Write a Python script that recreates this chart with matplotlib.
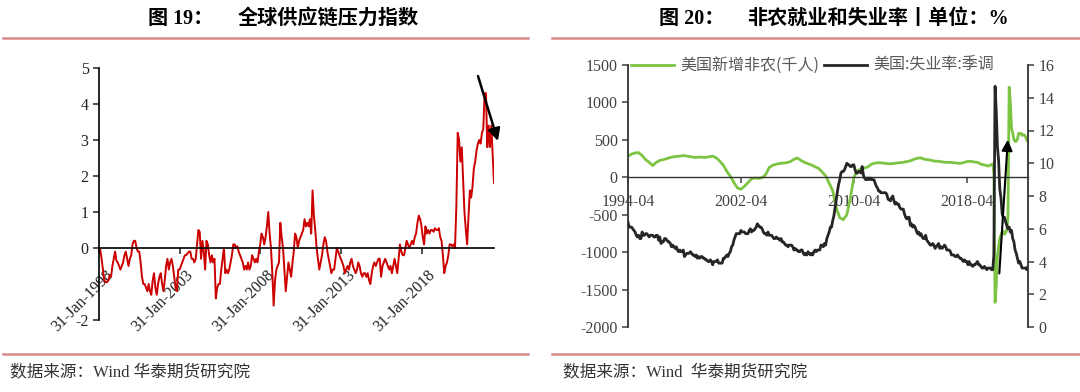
import numpy as np
import pandas as pd
import matplotlib as mpl
mpl.use('Agg') #silent mode
from matplotlib import pyplot as plt
import matplotlib.dates as mdates
import matplotlib.transforms as mtrans
from matplotlib.lines import Line2D

plt.rcParams['font.family'] = ['Liberation Serif', 'Noto Sans CJK SC']
plt.rcParams['axes.unicode_minus'] = False

#------------------- Data ----------------------
# global supply chain pressure index, monthly from Jan-1998
gscpi = [
    -0.1, -0.05, -0.3, -0.6, -0.9, -0.95, -0.95, -0.9, -0.75, -0.8, -0.5, -0.3,   # 1998
    -0.1, -0.35, -0.4, -0.5, -0.6, -0.5, -0.4, -0.2, -0.1, -0.3, -0.5, -0.3,      # 1999
    -0.2, 0.1, 0.2, 0.2, 0.0, -0.1, -0.1, -0.4, -0.8, -1.0, -1.0, -1.1,           # 2000
    -1.2, -1.0, -1.2, -1.3, -0.9, -0.7, -1.1, -1.3, -1.0, -0.8, -0.7, -1.0,       # 2001
    -1.2, -0.9, -0.5, -0.3, -0.6, -0.4, -0.3, -0.5, -0.8, -1.1, -1.2, -0.6,       # 2002
    -0.6, -0.5, -0.4, -0.3, -0.2, -0.2, -0.15, -0.1, -0.1, -0.3, -0.3, -0.4,      # 2003
    -0.3, 0.1, 0.5, 0.45, -0.3, 0.2, -0.1, -0.6, 0.2, 0.1, -0.2, -0.4,            # 2004
    -0.2, -0.4, -0.3, -1.4, -1.1, -1.0, -1.0, -0.6, -0.3, 0.0, -0.7, -0.6,        # 2005
    -0.7, -0.6, -0.4, -0.2, 0.1, 0.1, 0.0, 0.05, -0.1, -0.2, -0.3, -0.4,          # 2006
    -0.6, -0.5, -0.6, -0.4, -0.6, -0.5, -0.2, -0.3, -0.4, -0.3, -0.4, -0.1,       # 2007
    0.1, 0.4, 0.3, 0.1, 0.3, 0.6, 1.0, 0.4, 0.0, -0.7, -1.6, -0.9,                # 2008
    -0.6, -0.5, -0.4, 0.7, 0.3, 0.0, -0.6, -1.2, -0.8, -0.4, -0.6, -0.8,          # 2009
    -0.4, -0.1, 0.4, 0.3, 0.0, 0.2, 0.3, 0.4, 0.5, 0.8, 0.6, 0.7,                 # 2010
    0.6, 0.8, 0.4, 1.6, 0.9, 0.5, 0.0, -0.3, -0.6, -0.4, -0.2, 0.1,               # 2011
    0.3, 0.2, -0.1, -0.3, -0.5, -0.7, -0.6, -0.6, -0.3, 0.0, -0.1, -0.2,          # 2012
    -0.3, -0.4, -0.5, -0.7, -0.6, -0.5, -0.6, -0.4, -0.3, -0.5, -0.6, -0.7,       # 2013
    -0.6, -0.4, -0.5, -0.7, -0.8, -0.7, -0.7, -0.8, -0.7, -0.9, -1.0, -0.7,       # 2014
    -0.5, -0.4, -0.5, -0.4, -0.3, -0.3, -0.8, -0.5, -0.4, -0.3, -0.4, -0.5,       # 2015
    -0.6, -0.5, -0.7, -0.5, -0.3, -0.5, -0.7, -0.3, 0.1, -0.1, -0.2, -0.2,        # 2016
    0.0, 0.2, 0.1, 0.0, 0.1, 0.2, 0.1, 0.3, 0.4, 0.7, 0.9, 0.8,                   # 2017
    0.6, 0.3, 0.1, 0.6, 0.4, 0.5, 0.4, 0.5, 0.5, 0.45, 0.55, 0.5,                 # 2018
    0.5, 0.55, 0.3, 0.2, -0.2, -0.7, -0.5, -0.4, -0.2, 0.1, 0.1, 0.05,            # 2019
    0.1, 0.0, 1.2, 3.2, 3.0, 2.4, 2.8, 1.9, 1.0, 0.5, 0.1, 0.9,                   # 2020
    1.6, 1.4, 1.7, 2.2, 2.4, 2.7, 2.9, 3.0, 2.9, 3.2, 3.3, 4.3,                   # 2021
    4.3, 2.8, 3.4, 2.8, 3.4, 2.6, 1.8,                                            # 2022
]
gscpi_ticks = ['1998-01-31', '2003-01-31', '2008-01-31', '2013-01-31', '2018-01-31']
gscpi_yticks = [-2, 0, 1, 2, 3, 4, 5]

# US unemployment rate (sa), monthly from 1994-04
unemp = [
    6.4, 6.1, 6.1, 6.1, 6.0, 5.9, 5.8, 5.6, 5.5,                  # 1994
    5.6, 5.4, 5.4, 5.8, 5.6, 5.6, 5.7, 5.7, 5.6, 5.5, 5.6, 5.6,   # 1995
    5.6, 5.5, 5.5, 5.6, 5.6, 5.3, 5.5, 5.1, 5.2, 5.2, 5.4, 5.4,   # 1996
    5.3, 5.2, 5.2, 5.1, 4.9, 5.0, 4.9, 4.8, 4.9, 4.7, 4.6, 4.7,   # 1997
    4.6, 4.6, 4.7, 4.3, 4.4, 4.5, 4.5, 4.5, 4.6, 4.5, 4.4, 4.4,   # 1998
    4.3, 4.4, 4.2, 4.3, 4.2, 4.3, 4.3, 4.2, 4.2, 4.1, 4.1, 4.0,   # 1999
    4.0, 4.1, 4.0, 3.8, 4.0, 4.0, 4.0, 4.1, 3.9, 3.9, 3.9, 3.9,   # 2000
    4.2, 4.2, 4.3, 4.4, 4.3, 4.5, 4.6, 4.9, 5.0, 5.3, 5.5, 5.7,   # 2001
    5.7, 5.7, 5.7, 5.9, 5.8, 5.8, 5.8, 5.7, 5.7, 5.7, 5.9, 6.0,   # 2002
    5.8, 5.9, 5.9, 6.0, 6.1, 6.3, 6.2, 6.1, 6.1, 6.0, 5.8, 5.7,   # 2003
    5.7, 5.6, 5.8, 5.6, 5.6, 5.6, 5.5, 5.4, 5.4, 5.5, 5.4, 5.4,   # 2004
    5.3, 5.4, 5.2, 5.2, 5.1, 5.0, 5.0, 4.9, 5.0, 5.0, 5.0, 4.9,   # 2005
    4.7, 4.8, 4.7, 4.7, 4.6, 4.6, 4.7, 4.7, 4.5, 4.4, 4.5, 4.4,   # 2006
    4.6, 4.5, 4.4, 4.5, 4.4, 4.6, 4.7, 4.6, 4.7, 4.7, 4.7, 5.0,   # 2007
    5.0, 4.9, 5.1, 5.0, 5.4, 5.6, 5.8, 6.1, 6.1, 6.5, 6.8, 7.3,   # 2008
    7.8, 8.3, 8.7, 9.0, 9.4, 9.5, 9.5, 9.6, 9.8, 10.0, 9.9, 9.9,  # 2009
    9.8, 9.8, 9.9, 9.9, 9.6, 9.4, 9.4, 9.5, 9.5, 9.4, 9.8, 9.3,   # 2010
    9.1, 9.0, 9.0, 9.1, 9.0, 9.1, 9.0, 9.0, 9.0, 8.8, 8.6, 8.5,   # 2011
    8.3, 8.3, 8.2, 8.2, 8.2, 8.2, 8.2, 8.1, 7.8, 7.8, 7.7, 7.9,   # 2012
    8.0, 7.7, 7.5, 7.6, 7.5, 7.5, 7.3, 7.2, 7.2, 7.2, 6.9, 6.7,   # 2013
    6.6, 6.7, 6.7, 6.2, 6.3, 6.1, 6.2, 6.1, 5.9, 5.7, 5.8, 5.6,   # 2014
    5.7, 5.5, 5.4, 5.4, 5.6, 5.3, 5.2, 5.1, 5.0, 5.0, 5.1, 5.0,   # 2015
    4.8, 4.9, 5.0, 5.1, 4.8, 4.9, 4.8, 4.9, 5.0, 4.9, 4.7, 4.7,   # 2016
    4.7, 4.6, 4.4, 4.4, 4.4, 4.3, 4.3, 4.4, 4.3, 4.2, 4.2, 4.1,   # 2017
    4.0, 4.1, 4.0, 4.0, 3.8, 4.0, 3.8, 3.8, 3.7, 3.8, 3.8, 3.9,   # 2018
    4.0, 3.8, 3.8, 3.7, 3.6, 3.6, 3.7, 3.6, 3.5, 3.6, 3.6, 3.6,   # 2019
    3.5, 3.5, 4.4, 14.7, 13.2, 11.0, 10.2, 8.4, 7.9, 6.9, 6.7, 6.7,  # 2020
    6.4, 6.2, 6.0, 6.1, 5.8, 5.9, 5.4, 5.2, 4.7, 4.5, 4.2, 3.9,   # 2021
    4.0, 3.8, 3.6, 3.6, 3.6, 3.6, 3.5, 3.7,                       # 2022
]

# nonfarm payrolls (thousands, 12m avg): quarterly 1994-04 .. 2019-10
nfp_q = [
    280, 310, 325,
    330, 290, 236, 200,   # 1995
    156, 200, 225, 235,   # 1996
    250, 265, 275, 280,   # 1997
    285, 290, 280, 272,   # 1998
    265, 270, 268, 265,   # 1999
    275, 282, 260, 215,   # 2000
    160, 80, 13, -70,     # 2001
    -143, -160, -120, -70,  # 2002
    -20, -10, -15, -5,    # 2003
    36, 130, 160, 175,    # 2004
    185, 190, 195, 210,   # 2005
    240, 258, 225, 200,   # 2006
    180, 165, 140, 120,   # 2007
    70, 20, -80, -180,    # 2008
    -410, -540, -566, -500,  # 2009
    -276, 0, 90, 110,     # 2010
    125, 140, 175, 190,   # 2011
    195, 192, 185, 180,   # 2012
    183, 190, 195, 200,   # 2013
    210, 220, 240, 255,   # 2014
    258, 240, 235, 225,   # 2015
    215, 214, 205, 200,   # 2016
    200, 195, 192, 185,   # 2017
    195, 210, 214, 205,   # 2018
    200, 175, 165, 150,   # 2019
]
# monthly 2020-01 .. 2022-08
nfp_m = [
    170, 180, 50, -1671, -1450, -1061, -932, -815, -770, -729, -722, -762,
    -737, -699, -526, 1203, 1004, 647, 594, 505, 480, 480, 512, 587,
    585, 586, 560, 569, 564, 542, 496, 479,
]
nfp_ticks = ['1994-04-01', '2002-04-01', '2010-04-01', '2018-04-01']

gscpi_dates = pd.date_range('1998-01-31', periods=len(gscpi), freq='ME')
unemp_dates = pd.date_range('1994-04-01', periods=len(unemp), freq='MS')
nfp_dates = list(pd.date_range('1994-04-01', periods=len(nfp_q), freq='3MS')) + \
    list(pd.date_range('2020-01-01', periods=len(nfp_m), freq='MS'))
nfp = nfp_q + nfp_m

def dnum(s):
    return mdates.date2num(pd.Timestamp(s))

#--------------------- Figure ------------------------
W, H = 1080, 392
fig = plt.figure(figsize=(W / 100, H / 100), dpi=100)

def fx(px):
    return px / W
def fy(py):
    return 1 - py / H

# header / footer rules
rule_c = '#d98a8a'
for x0, x1 in [(3, 528), (552, 1080)]:
    for yy in (38, 354):
        fig.add_artist(Line2D([fx(x0), fx(x1)], [fy(yy), fy(yy)], color=rule_c, lw=1.8))

title_font = dict(fontsize=14.5, fontweight='bold', color='black', va='center', ha='left')
fig.text(fx(148), fy(19), '图 19：', **title_font)
fig.text(fx(238), fy(19), '全球供应链压力指数', **title_font)
fig.text(fx(659), fy(19), '图 20：', **title_font)
fig.text(fx(747), fy(19), '非农就业和失业率丨单位：%', **title_font)

foot_font = dict(fontsize=12, color='#333333', va='center', ha='left')
fig.text(fx(10), fy(372), '数据来源：Wind 华泰期货研究院', **foot_font)
fig.text(fx(563), fy(372), '数据来源：Wind  华泰期货研究院', **foot_font)

#------------------ Left: GSCPI ----------------------
ax1 = fig.add_axes([fx(99), fy(320), fx(494) - fx(99), fy(68) - fy(320)])
ax1.plot(gscpi_dates, gscpi, color='#cc0000', lw=1.4)
ax1.set_xlim(dnum('1998-01-31'), dnum('2022-07-31'))
ax1.set_ylim(-2, 5)
ax1.set_yticks(gscpi_yticks)
for s in ['top', 'right']:
    ax1.spines[s].set_visible(False)
ax1.spines['bottom'].set_position(('data', 0))
ax1.spines['left'].set_linewidth(1.2)
ax1.spines['bottom'].set_linewidth(1.2)
ax1.set_xticks([dnum(t) for t in gscpi_ticks])
ax1.xaxis.set_major_formatter(mdates.DateFormatter('%d-%b-%Y'))
ax1.tick_params(axis='both', direction='out', length=4, width=1.1, labelsize=11.5, colors='#222222')
ax1.tick_params(axis='x', pad=10)
offset = mtrans.ScaledTranslation(6 / 100, 0, fig.dpi_scale_trans)
for lab in ax1.get_xticklabels():
    lab.set_rotation(45)
    lab.set_ha('right')
    lab.set_va('top')
    lab.set_rotation_mode('anchor')
    lab.set_transform(lab.get_transform() + offset)
ax1.annotate('', xy=(dnum('2022-11-15'), 2.9), xytext=(dnum('2021-07-15'), 4.85),
             arrowprops=dict(arrowstyle='-|>', color='black', lw=1.8, mutation_scale=18),
             annotation_clip=False)

#------------------ Right: payrolls / unemployment ----------------------
ax2 = fig.add_axes([fx(628), fy(327), fx(1028) - fx(628), fy(65) - fy(327)])
ax3 = ax2.twinx()
l1, = ax2.plot(nfp_dates, nfp, color='#7dc443', lw=2.0, label='美国新增非农(千人)')
l2, = ax3.plot(unemp_dates, unemp, color='#262626', lw=2.0, label='美国:失业率:季调')
ax2.set_xlim(dnum('1994-04-01'), dnum('2022-08-01'))
ax2.set_ylim(-2000, 1500)
ax2.set_yticks(range(-2000, 1501, 500))
ax3.set_ylim(0, 16)
ax3.set_yticks(range(0, 17, 2))
for a in (ax2, ax3):
    a.spines['top'].set_visible(False)
    for s in ['left', 'right', 'bottom']:
        a.spines[s].set_color('#333333')
        a.spines[s].set_linewidth(1.3)
ax2.spines['right'].set_visible(False)
ax3.spines['left'].set_visible(False)
ax3.spines['bottom'].set_visible(False)
ax2.spines['bottom'].set_position(('data', 0))
ax2.spines['bottom'].set_linewidth(1.0)
ax2.set_xticks([dnum(t) for t in nfp_ticks])
ax2.xaxis.set_major_formatter(mdates.DateFormatter('%Y-%m'))
ax2.tick_params(axis='both', direction='out', length=4, width=1.1, labelsize=11.5,
                colors='#404040')
ax2.tick_params(axis='x', pad=8)
ax3.tick_params(axis='y', direction='out', length=4, width=1.1, labelsize=11.5, colors='#404040')
ax3.annotate('', xy=(dnum('2021-03-01'), 11.6), xytext=(dnum('2020-07-15'), 3.1),
             arrowprops=dict(arrowstyle='-|>', color='black', lw=1.5, mutation_scale=16))

leg = ax2.legend(handles=[l1, l2], loc='upper left', bbox_to_anchor=(0.0075, 1.03),
                 ncol=2, frameon=False, handlelength=2.7, handletextpad=0.4,
                 columnspacing=0.3, borderpad=0, borderaxespad=0,
                 prop={'family': ['Noto Sans CJK SC'], 'size': 11.5})
for t in leg.get_texts():
    t.set_color('#595959')

plt.savefig('out.png', dpi=100)
